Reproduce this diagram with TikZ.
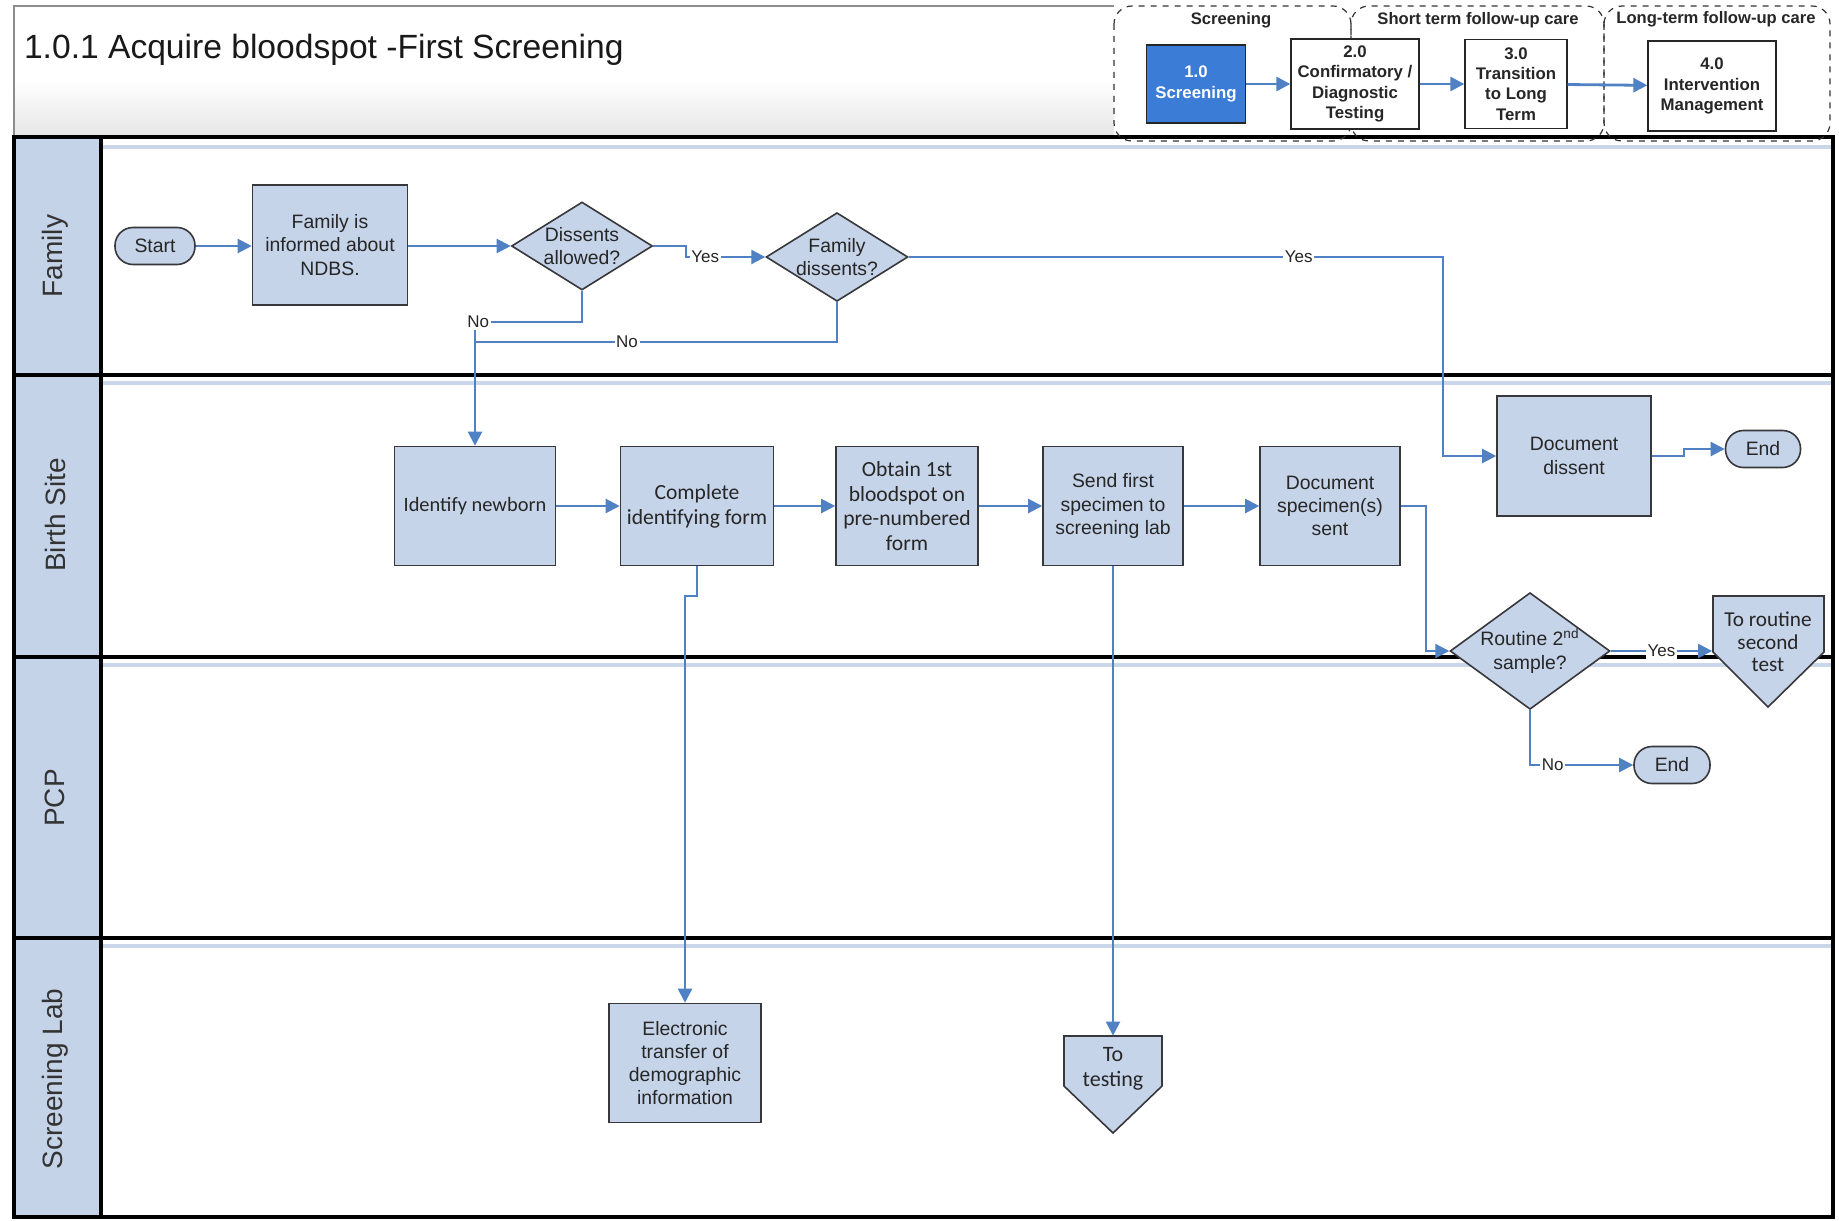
\documentclass[tikz,border=0pt]{standalone}
\usepackage{fontspec}
\setmainfont{Liberation Sans}
\newfontfamily\calfont{Carlito}
\usetikzlibrary{shapes.geometric,arrows.meta,calc}

\definecolor{boxfill}{RGB}{198,212,233}
\definecolor{hdrfill}{RGB}{197,211,232}
\definecolor{boxline}{RGB}{55,55,60}
\definecolor{flowblue}{RGB}{79,129,196}
\definecolor{stripe}{RGB}{202,215,235}
\definecolor{phaseblue}{RGB}{58,124,214}

\tikzset{
  flowline/.style={draw=flowblue, line width=1.1pt},
  flowarrow/.style={flowline, -{Triangle[length=7pt,width=7pt]}},
  procbox/.style={draw=boxline, fill=boxfill, line width=0.8pt, align=center,
    inner sep=1pt, text=black!85, font=\fontsize{9.7}{11.6}\selectfont},
  calbox/.style={procbox, font=\calfont\fontsize{10.8}{12.4}\selectfont},
  decbox/.style={procbox, diamond, inner sep=0pt},
  termbox/.style={procbox, rounded corners=9pt, minimum height=18.5pt},
  offpage/.style={draw=boxline, fill=boxfill, line width=0.8pt},
  offtext/.style={align=center, inner sep=0pt, text=black!85},
  lbl/.style={fill=white, inner sep=0.8pt, text=black!85, font=\fontsize{8.5}{9}\selectfont},
  lanetitle/.style={rotate=90, text=black!80, font=\fontsize{14}{16}\selectfont},
  phasebox/.style={draw=black!85, fill=white, line width=0.7pt, align=center,
    inner sep=1pt, text=black!85, font=\bfseries\fontsize{8.4}{10.1}\selectfont},
  groupbox/.style={draw=black!80, dashed, line width=0.6pt, rounded corners=9pt},
  grouplbl/.style={text=black!85, font=\bfseries\fontsize{8.3}{9.5}\selectfont},
}

\begin{document}
\begin{tikzpicture}[x=0.5pt,y=-0.5pt]
\useasboundingbox (0,0) rectangle (1839,1220);
\fill[white] (0,0) rectangle (1839,1220);

% title band
\shade[top color=white,bottom color=black!10] (14,80) rectangle (1114,137);
\draw[black!45,line width=0.6pt] (14,137) -- (14,6) -- (1114,6);
\node[anchor=west,text=black!90,font=\fontsize{16.8}{19}\selectfont] (title) at (17,50)
  {1.0.1 Acquire bloodspot -First Screening};

% swimlanes
\fill[hdrfill] (14,137) rectangle (101,1217);
\foreach \yy in {147,383,665,946}
  \draw[stripe,line width=1.6pt] (101,\yy) -- (1833,\yy);
\foreach \yy in {375,657,938}
  \draw[line width=2.4pt] (14,\yy) -- (1833,\yy);
\draw[line width=2pt] (101,137) -- (101,1217);
\draw[line width=2pt] (14,137) rectangle (1833,1217);

\node[lanetitle] (lfam) at (55,256) {Family};
\node[lanetitle] (lbirth) at (55,515) {Birth Site};
\node[lanetitle] (lpcp) at (55,798) {PCP};
\node[lanetitle] (llab) at (55,1079) {Screening Lab};

% phase overview
\draw[groupbox] (1114,6) rectangle (1351,141);
\draw[groupbox] (1351,6) rectangle (1604,141);
\draw[groupbox] (1604,6) rectangle (1830,141);
\node[grouplbl] (gscr) at (1231,20) {Screening};
\node[grouplbl] (gshort) at (1478,20) {Short term follow-up care};
\node[grouplbl] (glong) at (1716,19) {Long-term follow-up care};

\node[phasebox, fill=phaseblue, text=white, minimum width=49.5pt, minimum height=39pt]
  (ph1) at (1196,84) {1.0\\Screening};
\node[phasebox, minimum width=64pt, minimum height=45pt]
  (ph2) at (1355,84) {2.0\\Confirmatory /\\Diagnostic\\Testing};
\node[phasebox, minimum width=51pt, minimum height=44.5pt]
  (ph3) at (1516,84) {3.0\\Transition\\to Long\\Term};
\node[phasebox, minimum width=64pt, minimum height=45pt]
  (ph4) at (1712,86) {4.0\\Intervention\\Management};
\draw[flowarrow, line width=1.4pt] (ph1) -- (ph2);
\draw[flowarrow, line width=1.4pt] (ph2) -- (ph3);
\draw[flowarrow, line width=1.4pt] (ph3) -- (ph4);

% off-page connector outlines
\filldraw[offpage] (1064,1036) -- (1162,1036) -- (1162,1086) -- (1113,1133) -- (1064,1086) -- cycle;
\filldraw[offpage] (1713,596) -- (1824,596) -- (1824,652) -- (1768,707) -- (1713,652) -- cycle;

% Family lane
\node[termbox, minimum width=40pt] (start) at (155,246) {Start};
\node[procbox, minimum width=77.5pt, minimum height=60pt] (fam) at (330,245)
  {Family is\\informed about\\NDBS.};
\node[decbox, aspect=1.6, minimum width=70.5pt, minimum height=44pt] (dal) at (582,246)
  {Dissents\\allowed?};
\node[decbox, aspect=1.6, minimum width=69.5pt, minimum height=43.5pt] (fds) at (837,257)
  {Family\\dissents?};

% Birth Site lane
\node[calbox, font=\calfont\fontsize{10.2}{12}\selectfont, minimum width=80.5pt, minimum height=59.5pt]
  (idn) at (475,506) {Identify newborn};
\node[calbox, minimum width=76.5pt, minimum height=59.5pt] (cif) at (697,506)
  {Complete\\identifying form};
\node[calbox, minimum width=71pt, minimum height=59.5pt] (obt) at (907,506)
  {Obtain 1st\\bloodspot on\\pre-numbered\\form};
\node[procbox, minimum width=70pt, minimum height=59.5pt] (snd) at (1113,506)
  {Send first\\specimen to\\screening lab};
\node[procbox, minimum width=70pt, minimum height=59.5pt] (dss) at (1330,506)
  {Document\\specimen(s)\\sent};
\node[procbox, minimum width=77pt, minimum height=60pt] (ddi) at (1574,456)
  {Document\\dissent};
\node[termbox, minimum width=37.5pt] (end1) at (1763,449) {End};
\node[decbox, aspect=1.37, minimum width=78.5pt, minimum height=57.5pt] (rtn) at (1530,651)
  {Routine 2\textsuperscript{nd}\\sample?};
\node[offtext, font=\calfont\fontsize{10.6}{11.3}\selectfont, minimum width=55.5pt, minimum height=46pt]
  (trt) at (1768,642) {To routine\\second\\test};

% PCP lane
\node[termbox, minimum width=38pt] (end2) at (1672,765) {End};

% Screening Lab lane
\node[procbox, minimum width=76pt, minimum height=59.5pt] (etr) at (685,1063)
  {Electronic\\transfer of\\demographic\\information};
\node[offtext, font=\calfont\fontsize{11}{12.5}\selectfont, minimum width=49pt, minimum height=33pt]
  (tst) at (1113,1069) {To\\testing};

% connectors
\coordinate (nojoin) at (475,322);
\coordinate (nojoin2) at (475,342);
\coordinate (yesbend) at (1443,0);

\draw[flowarrow] (start.east) -- (start.east -| fam.west);
\draw[flowarrow] (fam.east |- dal) -- (dal.west);
\draw[flowarrow] (dal.east) -- ++(33,0) |- node[lbl,pos=0.62]{Yes} (fds.west);
\draw[flowarrow] (nojoin) -- (idn.north);
\draw[flowline] (fds.south) |- node[lbl,pos=0.79]{No} (nojoin2);
\draw[flowline] (dal.south) |- node[lbl,pos=0.985]{No} (nojoin);
\draw[flowarrow] (fds.east) -- node[lbl,pos=0.73]{Yes} (fds.east -| yesbend) |- (ddi.west);
\draw[flowarrow] (ddi.east) -- ++(32,0) |- (end1.west);

\draw[flowarrow] (idn) -- (cif);
\draw[flowarrow] (cif) -- (obt);
\draw[flowarrow] (obt) -- (snd);
\draw[flowarrow] (snd) -- (dss);
\draw[flowarrow] (dss.east) -- ++(25,0) |- (rtn.west);
\draw[flowarrow] (rtn.east) -- node[lbl,pos=0.5]{Yes} (rtn.east -| trt.west);
\draw[flowarrow] (rtn.south) |- node[lbl,pos=0.61]{No} (end2.west);

\draw[flowarrow] (cif.south) -- ++(0,30) -| (etr.north);
\draw[flowarrow] (snd.south) -- (tst.north);
\end{tikzpicture}
\end{document}
